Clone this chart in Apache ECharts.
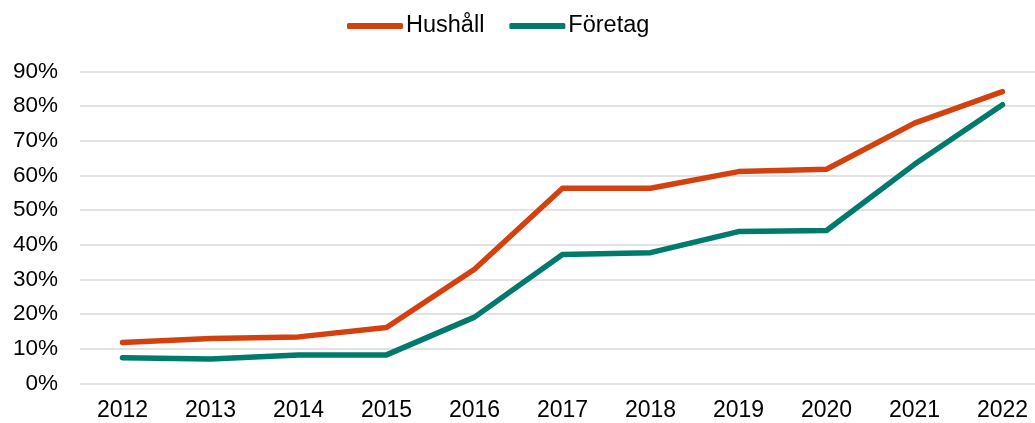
<!DOCTYPE html>
<html>
<head>
<meta charset="utf-8">
<script src="https://cdn.jsdelivr.net/npm/echarts@6/dist/echarts.min.js"></script>
<style>
  html, body { margin: 0; padding: 0; background: #fff; }
  #chart { width: 1035px; height: 423px; }
</style>
</head>
<body>
<div id="chart"></div>
<script>
// Andel (%) per år
const years = ['2012', '2013', '2014', '2015', '2016', '2017', '2018', '2019', '2020', '2021', '2022'];
const hushall = [11.8, 12.9, 13.4, 16.1, 32.9, 56.3, 56.3, 61.1, 61.8, 75.1, 84.2];
const foretag = [7.4, 7.0, 8.2, 8.2, 19.1, 37.2, 37.7, 43.8, 44.1, 63.2, 80.4];
const seriesNames = ['Hushåll', 'Företag'];
const colors = ['#D5410E', '#007A6C'];
const yTicks = { min: 0, max: 90, interval: 10 };

const font = 'Liberation Sans, Arial, sans-serif';

const chart = echarts.init(document.getElementById('chart'), null, { renderer: 'canvas' });

function lineSeries(name, data, color) {
  return {
    name: name,
    type: 'line',
    xAxisIndex: 1,
    yAxisIndex: 1,
    data: data,
    symbol: 'none',
    lineStyle: { color: color, width: 5.5, cap: 'round', join: 'round' },
    itemStyle: { color: color },
    emphasis: { disabled: true }
  };
}

chart.setOption({
  animation: false,
  color: colors,
  legend: {
    top: 9,
    left: 342,
    data: seriesNames,
    itemWidth: 56,
    itemHeight: 6,
    itemGap: 25,
    icon: 'roundRect',
    textStyle: { fontFamily: font, fontSize: 23.5, color: '#000', padding: [0, 0, 0, -2] }
  },
  // grid 0: full-width gridlines and percent labels; grid 1: the yearly lines
  grid: [
    { left: 80, top: 71.5, right: 0, height: 311.8 },
    { left: 122.5, top: 71.5, right: 32.5, height: 311.8 }
  ],
  xAxis: [
    { type: 'category', gridIndex: 0, data: years, show: false },
    {
      type: 'category',
      gridIndex: 1,
      data: years,
      boundaryGap: false,
      axisLine: { show: false },
      axisTick: { show: false },
      splitLine: { show: false },
      axisLabel: { fontFamily: font, fontSize: 23, color: '#000', margin: 16 }
    }
  ],
  yAxis: [
    {
      type: 'value',
      gridIndex: 0,
      min: yTicks.min,
      max: yTicks.max,
      interval: yTicks.interval,
      axisLine: { show: false },
      axisTick: { show: false },
      axisLabel: { fontFamily: font, fontSize: 22.5, color: '#000', margin: 22, formatter: '{value}%' },
      splitLine: { lineStyle: { color: '#D9D9D9', width: 1.5 } }
    },
    {
      type: 'value',
      gridIndex: 1,
      min: yTicks.min,
      max: yTicks.max,
      interval: yTicks.interval,
      show: false,
      splitLine: { show: false }
    }
  ],
  series: [
    lineSeries(seriesNames[0], hushall, colors[0]),
    lineSeries(seriesNames[1], foretag, colors[1])
  ]
});
</script>
</body>
</html>
